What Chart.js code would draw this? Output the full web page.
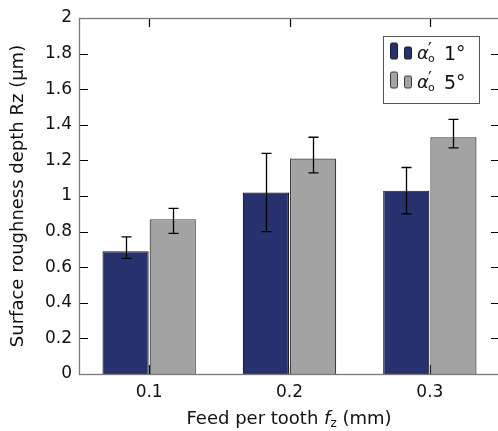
<!DOCTYPE html>
<html>
<head>
<meta charset="utf-8">
<script src="https://cdn.jsdelivr.net/npm/chart.js@4.4.1/dist/chart.umd.min.js"></script>
<style>
  html, body { margin: 0; padding: 0; background: #fff; overflow: hidden; }
  #wrap { width: 498px; height: 431px; overflow: hidden; }
</style>
</head>
<body>
<div id="wrap"><canvas id="chart" width="510" height="431"></canvas></div>
<script>
// ── Data
const categories = ['0.1', '0.2', '0.3'];
const legendAngles = ['1°', '5°'];

const rz1 = [0.69, 1.02, 1.03];
const rz1Low = [0.65, 0.80, 0.90];
const rz1High = [0.77, 1.24, 1.16];

const rz5 = [0.87, 1.21, 1.33];
const rz5Low = [0.79, 1.13, 1.27];
const rz5High = [0.93, 1.33, 1.43];

const yMin = 0, yMax = 2, yStep = 0.2;

const FONT = '"DejaVu Sans", sans-serif';

// ── Error bars, drawn through the bar elements and the y scale
const errorBars = {
  id: 'errorBars',
  afterDatasetsDraw(chart) {
    const { ctx, scales: { y } } = chart;
    ctx.save();
    ctx.strokeStyle = '#000';
    ctx.lineWidth = 1.3;
    chart.data.datasets.forEach((ds, di) => {
      chart.getDatasetMeta(di).data.forEach((bar, i) => {
        const x = Math.round(bar.x) + 0.5;
        const yl = y.getPixelForValue(ds.errLow[i]);
        const yh = y.getPixelForValue(ds.errHigh[i]);
        ctx.beginPath();
        ctx.moveTo(x, yl); ctx.lineTo(x, yh);
        ctx.moveTo(x - 5, yl); ctx.lineTo(x + 5, yl);
        ctx.moveTo(x - 5, yh); ctx.lineTo(x + 5, yh);
        ctx.stroke();
      });
    });
    ctx.restore();
  }
};

// ── Box frame with inward ticks (pgfplots look)
const frame = {
  id: 'frame',
  beforeDatasetsDraw(chart) {
    const { ctx, chartArea: a, scales: { x, y } } = chart;
    ctx.save();
    ctx.strokeStyle = '#000';
    ctx.lineWidth = 1.2;
    ctx.beginPath();
    y.ticks.forEach(t => {
      const py = Math.round(y.getPixelForValue(t.value)) + 0.5;
      ctx.moveTo(a.left, py); ctx.lineTo(a.left + 9, py);
      ctx.moveTo(a.right, py); ctx.lineTo(a.right - 9, py);
    });
    categories.forEach((c, i) => {
      const px = Math.round(x.getPixelForValue(i)) + 0.5;
      ctx.moveTo(px, a.bottom); ctx.lineTo(px, a.bottom - 9);
      ctx.moveTo(px, a.top); ctx.lineTo(px, a.top + 9);
    });
    ctx.stroke();
    ctx.restore();
  },
  afterDatasetsDraw(chart) {
    const { ctx, chartArea: a } = chart;
    ctx.save();
    ctx.strokeStyle = '#7a7a7a';
    ctx.lineWidth = 1.3;
    ctx.strokeRect(a.left + 0.5, a.top + 0.5, a.right - a.left, a.bottom - a.top);
    ctx.restore();
  }
};

// ── Legend box: two small bars per entry, then α'_o + angle
const barLegend = {
  id: 'barLegend',
  afterDraw(chart) {
    const { ctx } = chart;
    const bx = 383.5, by = 36.5, bw = 96, bh = 67;
    ctx.save();
    ctx.fillStyle = '#fff';
    ctx.strokeStyle = '#555';
    ctx.lineWidth = 1;
    ctx.fillRect(bx, by, bw, bh);
    ctx.strokeRect(bx, by, bw, bh);
    chart.data.datasets.forEach((ds, i) => {
      const base = 59 + i * 29;
      ctx.fillStyle = ds.backgroundColor;
      ctx.strokeStyle = ds.borderColor;
      ctx.lineWidth = 1;
      ctx.beginPath();
      ctx.roundRect(390.5, base - 16, 7, 16, 1.5);
      ctx.roundRect(404.5, base - 12, 7, 12, 1.5);
      ctx.fill(); ctx.stroke();
      ctx.fillStyle = '#111';
      ctx.textBaseline = 'alphabetic';
      ctx.textAlign = 'left';
      ctx.font = 'italic 18px ' + FONT;
      ctx.fillText('α', 417, base);
      ctx.font = '17px ' + FONT;
      ctx.fillText('′', 428, base - 4);
      ctx.font = '11px ' + FONT;
      ctx.fillText('o', 428, base + 3);
      ctx.font = '19px ' + FONT;
      ctx.fillText(legendAngles[i], 444, base + 1);
    });
    ctx.restore();
  }
};

// ── X axis title with italic f and subscript z
const xTitle = {
  id: 'xTitle',
  afterDraw(chart) {
    const { ctx } = chart;
    const parts = [
      { t: 'Feed per tooth ', f: '18px ' + FONT, dy: 0 },
      { t: 'f', f: 'italic 18px ' + FONT, dy: 0 },
      { t: 'z', f: '12px ' + FONT, dy: 3 },
      { t: ' (mm)', f: '18px ' + FONT, dy: 0 }
    ];
    ctx.save();
    ctx.fillStyle = '#111';
    ctx.textBaseline = 'alphabetic';
    ctx.textAlign = 'left';
    let total = 0;
    parts.forEach(p => { ctx.font = p.f; p.w = ctx.measureText(p.t).width; total += p.w; });
    let px = 289 - total / 2;
    parts.forEach(p => { ctx.font = p.f; ctx.fillText(p.t, px, 424 + p.dy); px += p.w; });
    ctx.restore();
  }
};

new Chart(document.getElementById('chart'), {
  type: 'bar',
  data: {
    labels: categories,
    datasets: [
      {
        data: rz1, errLow: rz1Low, errHigh: rz1High,
        backgroundColor: '#27316e', borderColor: '#1c1c2a', borderWidth: 1.2
      },
      {
        data: rz5, errLow: rz5Low, errHigh: rz5High,
        backgroundColor: '#a3a3a3', borderColor: '#3c3c3c', borderWidth: 1.2
      }
    ]
  },
  options: {
    responsive: false,
    animation: false,
    layout: { padding: { top: 18, right: 10, left: 0, bottom: 0 } },
    datasets: { bar: { categoryPercentage: 0.672, barPercentage: 0.98 } },
    plugins: { legend: { display: false }, tooltip: { enabled: false } },
    scales: {
      x: {
        grid: { display: false, drawTicks: false },
        border: { display: false },
        ticks: { color: '#111', font: { family: FONT, size: 17 }, padding: 8 },
        afterFit(s) { s.height = 57; }
      },
      y: {
        min: yMin, max: yMax,
        grid: { display: false, drawTicks: false },
        border: { display: false },
        ticks: {
          stepSize: yStep, color: '#111', padding: 7,
          font: { family: FONT, size: 17 },
          callback: v => String(+v.toFixed(1))
        },
        title: {
          display: true, text: 'Surface roughness depth Rz (µm)', color: '#111',
          font: { family: FONT, size: 18 }, padding: { top: 8, bottom: 0 }
        },
        afterFit(s) { s.width = 79; }
      }
    }
  },
  plugins: [frame, errorBars, barLegend, xTitle]
});
</script>
</body>
</html>
